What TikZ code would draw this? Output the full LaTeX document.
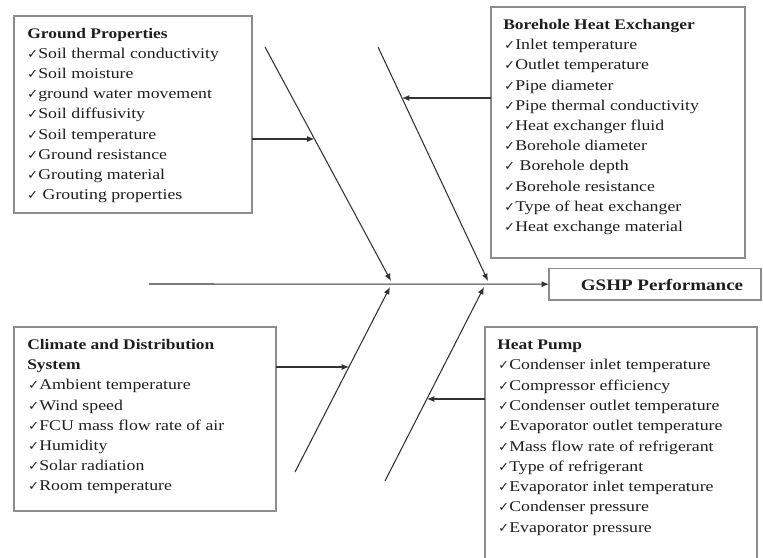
\documentclass[tikz,border=0pt]{standalone}
\usepackage{fontspec}
\setmainfont[FakeStretch=1.19]{Liberation Serif}
\newfontfamily\chkfont{DejaVu Sans}
\usetikzlibrary{arrows.meta}

\definecolor{ink}{HTML}{1E1E1E}
\definecolor{boxline}{HTML}{8C8C8C}
\definecolor{boneline}{HTML}{333333}

\newcommand{\ck}{{\chkfont\fontsize{9.5pt}{10pt}\selectfont ✓}\kern0.3pt}

\tikzset{
  box/.style={draw=boxline, line width=1pt, inner sep=0pt, outer sep=0pt, anchor=north west},
  item/.style={anchor=base west, inner sep=0pt, text=ink, font=\fontsize{11.2pt}{13pt}\selectfont},
  ttl/.style={anchor=base west, inner sep=0pt, text=ink, font=\fontsize{11pt}{13pt}\selectfont\bfseries},
  arr/.style={draw=boneline, line width=0.8pt, -{Latex[length=5.5pt,width=4.5pt]}},
}

\begin{document}
\begin{tikzpicture}[x=0.75pt,y=-0.75pt]
\useasboundingbox (0,0) rectangle (763,557);

% ---------- boxes ----------
\node[box, minimum width=178.5pt, minimum height=147.75pt] (gp) at (14,16) {};
\node[box, minimum width=190.5pt, minimum height=188.25pt] (bhe) at (491,7) {};
\node[box, minimum width=196.5pt, minimum height=138pt] (cds) at (14,327) {};
\node[box, minimum width=204pt, minimum height=180pt] (hp) at (485,327) {};
\node[box, minimum width=159pt, minimum height=23.5pt] (perf) at (549,268.5) {};
\node[anchor=center, inner sep=0pt, text=ink, font=\fontsize{12pt}{14pt}\selectfont\bfseries] (perftxt) at (662,285) {GSHP Performance};

% ---------- Ground Properties ----------
\node[ttl] (gpt) at (27,38) {Ground Properties};
\foreach [count=\i] \t in {Soil thermal conductivity, Soil moisture, ground water movement, Soil diffusivity, Soil temperature, Ground resistance, Grouting material, \ Grouting properties}
  \node[item] (gp\i) at (27,{38+20.2*\i}) {\ck\t};

% ---------- Borehole Heat Exchanger ----------
\node[ttl] (bhet) at (503,29.5) {Borehole Heat Exchanger};
\foreach [count=\i] \t in {Inlet temperature, Outlet temperature, Pipe diameter, Pipe thermal conductivity, Heat exchanger fluid, Borehole diameter, \ Borehole depth, Borehole resistance, Type of heat exchanger, Heat exchange material}
  \node[item] (bhe\i) at (504,{29.5+20.2*\i}) {\ck\t};

% ---------- Climate and Distribution System ----------
\node[ttl] (cdst1) at (27,349.5) {Climate and Distribution};
\node[ttl] (cdst2) at (27,369.7) {System};
\foreach [count=\i] \t in {Ambient temperature, Wind speed, FCU mass flow rate of air, Humidity, Solar radiation, Room temperature}
  \node[item] (cds\i) at (28,{369.7+20.2*\i}) {\ck\t};

% ---------- Heat Pump ----------
\node[ttl] (hpt) at (497,349.5) {Heat Pump};
\foreach [count=\i] \t in {Condenser inlet temperature, Compressor efficiency, Condenser outlet temperature, Evaporator outlet temperature, Mass flow rate of refrigerant, Type of refrigerant, Evaporator inlet temperature, Condenser pressure, Evaporator pressure}
  \node[item] (hp\i) at (498,{349.5+20.3*\i}) {\ck\t};

% ---------- fishbone ----------
\coordinate (tail) at (149,284);
\coordinate (u1s) at (265,47);  \coordinate (u1e) at (391,281);
\coordinate (u2s) at (378,47);  \coordinate (u2e) at (488,281);
\coordinate (l1s) at (295,472); \coordinate (l1e) at (390,287);
\coordinate (l2s) at (385,481); \coordinate (l2e) at (484,287);

\coordinate (tgp)  at (314.5,139);
\coordinate (tbhe) at (402,98);
\coordinate (tcds) at (349,367);
\coordinate (thp)  at (427,399);

\draw[arr] (tail) -- (perf.west);
\draw[arr] (u1s) -- (u1e);
\draw[arr] (u2s) -- (u2e);
\draw[arr] (l1s) -- (l1e);
\draw[arr] (l2s) -- (l2e);

\draw[arr] (gp.east |- tgp) -- (tgp);
\draw[arr] (bhe.west |- tbhe) -- (tbhe);
\draw[arr] (cds.east |- tcds) -- (tcds);
\draw[arr] (hp.west |- thp) -- (thp);
\end{tikzpicture}
\end{document}
